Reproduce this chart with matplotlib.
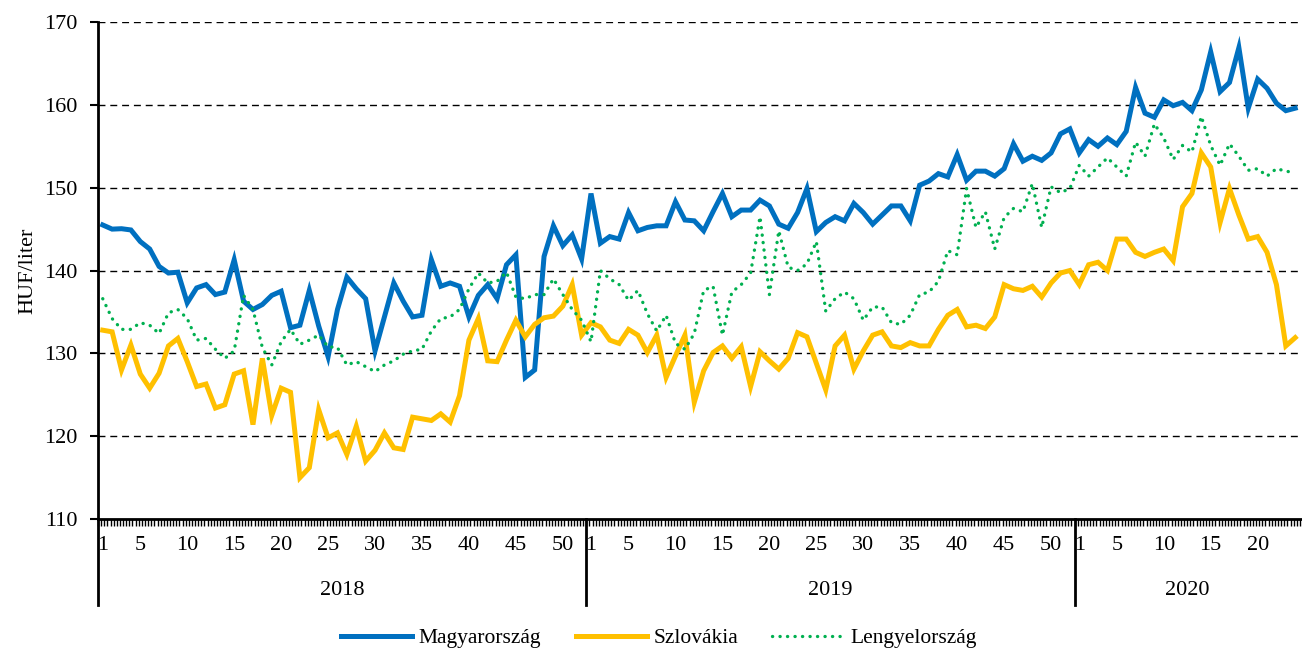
import matplotlib
matplotlib.use("Agg")
import matplotlib.pyplot as plt
import matplotlib.transforms as mtransforms
import numpy as np

plt.rcParams['font.family'] = ['Liberation Serif', 'DejaVu Serif']

years = ["2018", "2019", "2020"]
weeks_per_year = [52, 52, 24]
week_ticks = [[1, 5, 10, 15, 20, 25, 30, 35, 40, 45, 50],
              [1, 5, 10, 15, 20, 25, 30, 35, 40, 45, 50],
              [1, 5, 10, 15, 20]]

# Magyarország
hu = [145.5, 145.0, 145.05, 144.9, 143.5, 142.6, 140.5, 139.7, 139.8, 136.1,
      137.9, 138.3, 137.1, 137.4, 141.3, 136.3, 135.3, 135.9, 137.0, 137.5,
      133.1, 133.4, 137.6, 133.3, 129.6, 135.3, 139.2, 137.8, 136.6, 130.3,
      134.4, 138.5, 136.3, 134.4, 134.6, 141.3, 138.1, 138.5, 138.1, 134.4,
      137.0, 138.3, 136.6, 140.7, 141.9, 127.1, 128.0, 141.7, 145.4, 143.0,
      144.3, 141.4,
      149.3, 143.3, 144.1, 143.8, 147.0, 144.8, 145.2, 145.4, 145.4, 148.3,
      146.1, 146.0, 144.8, 147.1, 149.3, 146.5, 147.3, 147.3, 148.5, 147.8,
      145.6, 145.1, 147.0, 149.9, 144.7, 145.8, 146.5, 146.0, 148.1, 147.0,
      145.6, 146.7, 147.8, 147.8, 146.0, 150.3, 150.8, 151.7, 151.3, 154.0,
      150.9, 152.0, 152.0, 151.4, 152.3, 155.3, 153.2, 153.8, 153.3, 154.2,
      156.5, 157.1,
      154.2, 155.8, 155.0, 156.0, 155.2, 156.8, 162.1, 159.0, 158.5, 160.6,
      159.9, 160.3, 159.3, 161.8, 166.4, 161.6, 162.7, 166.9, 159.6, 163.1,
      162.0, 160.2, 159.3, 159.6]

# Szlovákia
sk = [132.8, 132.6, 128.0, 131.0, 127.5, 125.8, 127.6, 130.9, 131.8, 129.0,
      126.0, 126.3, 123.4, 123.8, 127.5, 127.9, 121.4, 129.4, 122.5, 125.8,
      125.3, 115.0, 116.2, 123.2, 119.8, 120.4, 117.8, 121.2, 117.0, 118.3,
      120.4, 118.6, 118.4, 122.3, 122.1, 121.9, 122.7, 121.7, 124.9, 131.6,
      134.2, 129.1, 129.0, 131.6, 134.0, 132.0, 133.5, 134.3, 134.5, 135.7,
      138.3, 132.2,
      133.7, 133.2, 131.6, 131.2, 132.9, 132.2, 130.1, 132.2, 127.1, 129.7,
      132.2, 124.1, 127.9, 130.1, 130.9, 129.4, 130.8, 126.0, 130.2, 129.1,
      128.1, 129.4, 132.5, 132.0, 128.8, 125.6, 130.9, 132.2, 128.1, 130.3,
      132.2, 132.6, 130.9, 130.7, 131.3, 130.9, 130.9, 132.9, 134.6, 135.3,
      133.2, 133.4, 133.0, 134.4, 138.3, 137.8, 137.6, 138.1, 136.8, 138.5,
      139.7, 140.0,
      138.3, 140.7, 141.0, 140.0, 143.8, 143.8, 142.2, 141.7, 142.2, 142.6,
      141.2, 147.7, 149.3, 154.2, 152.5, 145.8, 149.9, 146.7, 143.8, 144.1,
      142.2, 138.3, 130.9, 131.9]

# Lengyelország
pl = [136.6, 134.2, 132.9, 132.9, 133.7, 133.4, 132.4, 134.9, 135.3, 134.2,
      131.6, 131.8, 130.5, 129.4, 130.3, 137.0, 135.3, 130.7, 128.6, 131.4,
      132.9, 131.1, 131.6, 132.2, 130.8, 130.7, 128.6, 129.0, 128.4, 127.8,
      128.6, 129.1, 129.9, 130.3, 130.5, 132.7, 134.2, 134.4, 135.3, 137.8,
      139.7, 138.5, 138.7, 139.8, 136.8, 136.6, 137.1, 137.1, 139.0, 137.1,
      135.3, 134.0,
      131.4, 140.0, 139.0, 138.3, 136.4, 137.6, 134.8, 132.7, 134.6, 131.2,
      130.5, 132.4, 137.6, 138.1, 132.2, 137.4, 138.3, 139.7, 146.5, 137.1,
      144.8, 140.4, 140.0, 140.8, 143.5, 135.1, 136.6, 137.4, 136.6, 134.0,
      135.6, 135.6, 133.7, 133.5, 134.6, 137.1, 137.4, 138.7, 142.4, 141.9,
      149.9, 145.2, 147.1, 142.6, 146.4, 147.5, 147.1, 150.5, 145.2, 150.1,
      149.4, 149.9,
      152.7, 151.4, 152.5, 153.6, 152.5, 151.4, 155.5, 153.8, 157.7, 156.0,
      153.4, 155.1, 154.3, 158.6, 155.1, 152.7, 155.3, 153.8, 152.1, 152.3,
      151.4, 152.3, 152.0, 151.8]

n = sum(weeks_per_year)
x = np.arange(n)

fig = plt.figure(figsize=(13.02, 6.48), dpi=100)
ax = fig.add_axes([0.0753, 0.199, 0.9255, 0.767])

ax.plot(x, hu, color='#0070C0', lw=3.6, label='Magyarország', solid_joinstyle='miter')
ax.plot(x, sk, color='#FFC000', lw=3.6, label='Szlovákia', solid_joinstyle='miter')
ax.plot(x, pl, color='#00B050', lw=2.4, linestyle=(0, (0.05, 2.2)),
        dash_capstyle='round', label='Lengyelország')

ax.set_ylim(110, 170)
ax.set_xlim(-0.5, n - 0.5)
ax.set_yticks(range(110, 171, 10))
for v in range(120, 171, 10):
    ax.axhline(v, color='black', lw=1.0, ls=(0, (5, 3.5)), zorder=0)

# x ticks: week labels per year
tick_pos, tick_lab = [], []
start = 0
for nw, wt in zip(weeks_per_year, week_ticks):
    for w in wt:
        tick_pos.append(start + w - 1)
        tick_lab.append(str(w))
    start += nw
ax.set_xticks(tick_pos)
ax.set_xticklabels(tick_lab)
ax.set_xticks(np.arange(-0.5, n, 1 / 3), minor=True)
ax.tick_params(axis='x', which='major', length=0, pad=12, labelsize=16)
ax.tick_params(axis='x', which='minor', length=5, width=1.0, direction='out')
ax.tick_params(axis='y', length=6, width=1.5, labelsize=16, pad=9)

for s in ['top', 'right']:
    ax.spines[s].set_visible(False)
ax.spines['left'].set_linewidth(2)
ax.spines['bottom'].set_linewidth(2)

ax.set_ylabel('HUF/liter', fontsize=16, labelpad=5)

# year labels and dividers
trans = mtransforms.blended_transform_factory(ax.transData, ax.transAxes)
start = 0
for yr, nw in zip(years, weeks_per_year):
    ax.plot([start - 0.5, start - 0.5], [0, -0.173], transform=trans,
            color='black', lw=2, clip_on=False)
    ax.text(start - 0.5 + nw / 2, -0.143, yr, transform=trans,
            ha='center', va='center', fontsize=16)
    start += nw

fig.legend(loc='lower center', bbox_to_anchor=(0.506, -0.03), ncol=3,
           frameon=False, fontsize=15.5, handlelength=3.3, columnspacing=1.6,
           handletextpad=0.3)

fig.savefig('out.png', dpi=100)
